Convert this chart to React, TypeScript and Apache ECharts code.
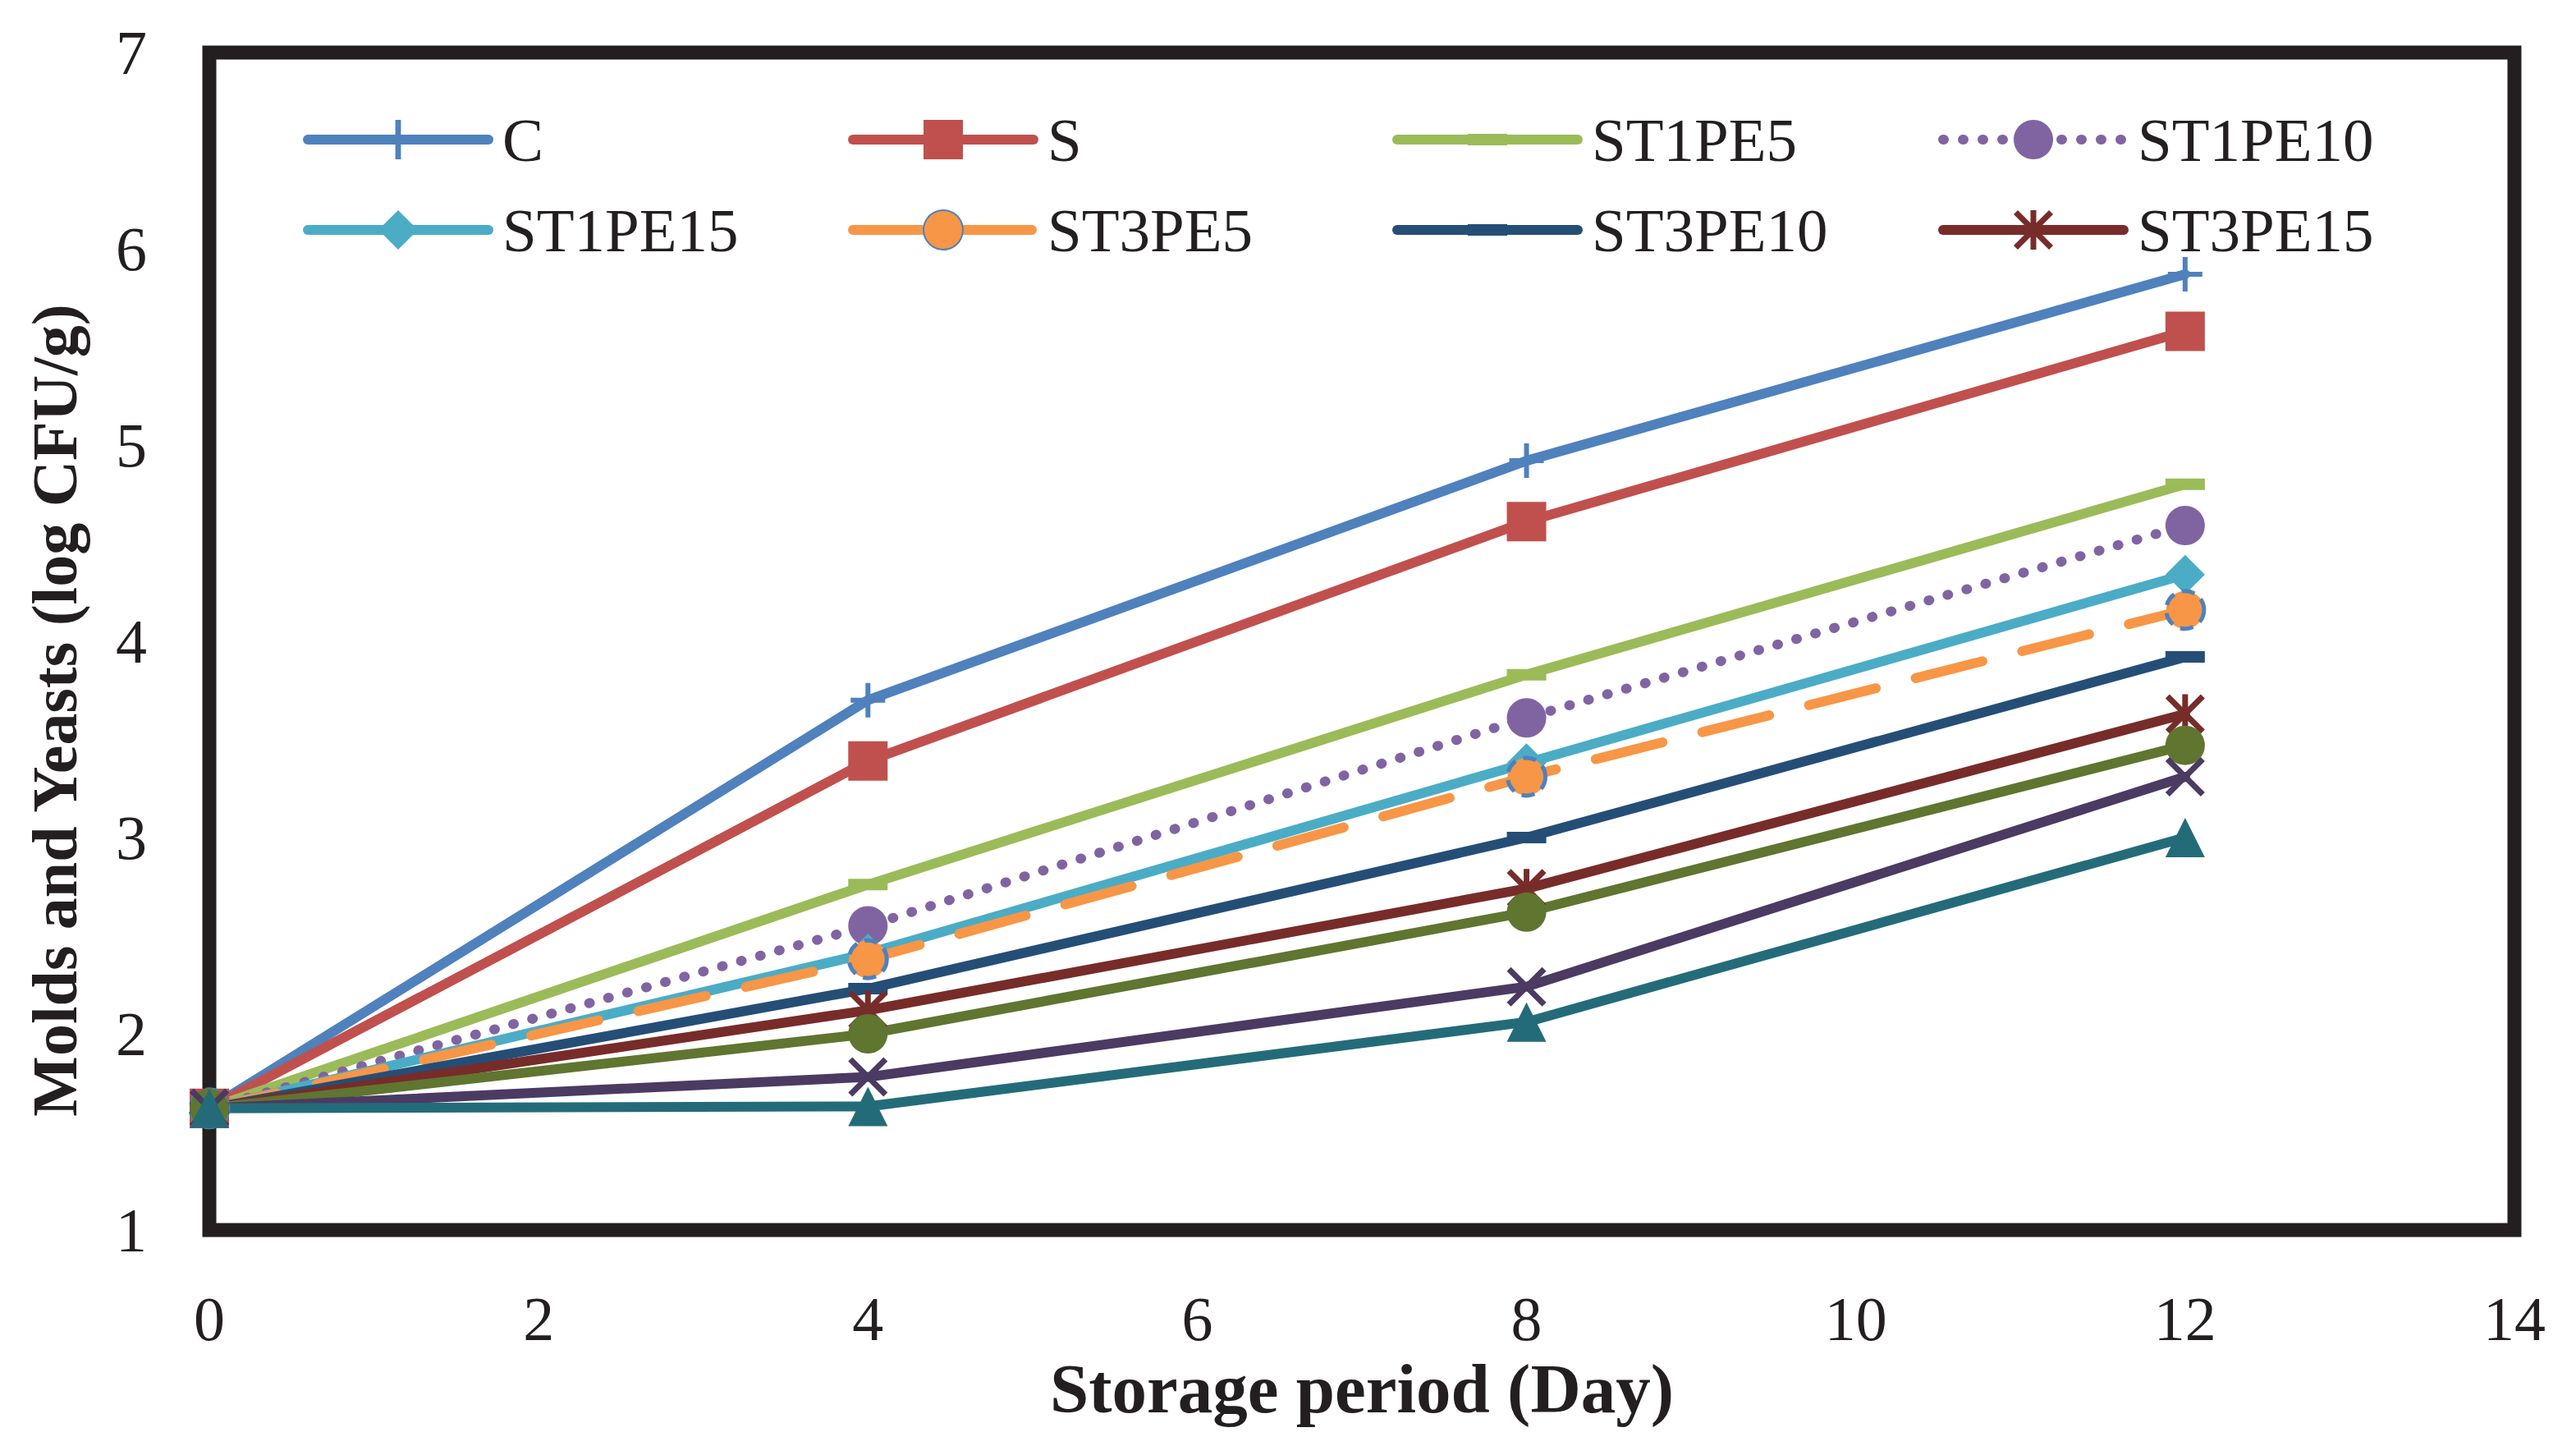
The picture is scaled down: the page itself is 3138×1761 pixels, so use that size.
import { useEffect, useRef } from "react"
import * as echarts from "echarts"

// storage days
const days = [0, 4, 8, 12]

// log CFU/g
const cValues = [1.62, 3.7, 4.92, 5.87]
const sValues = [1.62, 3.39, 4.61, 5.58]
const st1pe5Values = [1.62, 2.76, 3.83, 4.8]
const st1pe10Values = [1.62, 2.55, 3.61, 4.59]
const st1pe15Values = [1.62, 2.41, 3.38, 4.34]
const st3pe5Values = [1.62, 2.38, 3.31, 4.16]
const st3pe10Values = [1.62, 2.23, 3.0, 3.92]
const st3pe15Values = [1.62, 2.12, 2.74, 3.63]
// three more series are drawn but not listed in the legend
const hidden1Values = [1.62, 2.0, 2.62, 3.47]
const hidden2Values = [1.62, 1.78, 2.24, 3.31]
const hidden3Values = [1.62, 1.63, 2.06, 3.0]

const xTicks = { min: 0, max: 14, step: 2 }
const yTicks = { min: 1, max: 7, step: 1 }

const legendColumns = [
  ["C", "ST1PE15"],
  ["S", "ST3PE5"],
  ["ST1PE5", "ST3PE10"],
  ["ST1PE10", "ST3PE15"],
]

const FONT = "'Liberation Serif', 'Times New Roman', serif"
const INK = "#231f20"

const plusPath = "path://M18 0H24V18H42V24H24V42H18V24H0V18H18Z"
const dashPath = "path://M0 0M48 48M0 17H48V31H0Z"
const crossPath = "path://M0 5L5 0L48 43L43 48Z M43 0L48 5L5 48L0 43Z"
const starPath = "path://M0 5L5 0L48 43L43 48Z M43 0L48 5L5 48L0 43Z M20.5 0H27.5V48H20.5Z"

type LineDef = {
  name: string
  values: number[]
  color: string
  symbol: string
  size: number
  dash?: number[]
  border?: { color: string; width: number; type: number[] }
}

const lines: LineDef[] = [
  { name: "C", values: cValues, color: "#4f81bd", symbol: plusPath, size: 42 },
  { name: "S", values: sValues, color: "#c0504d", symbol: "rect", size: 48 },
  { name: "ST1PE5", values: st1pe5Values, color: "#9bbb59", symbol: dashPath, size: 48 },
  { name: "ST1PE10", values: st1pe10Values, color: "#8064a2", symbol: "circle", size: 48, dash: [1, 23] },
  { name: "ST1PE15", values: st1pe15Values, color: "#4bacc6", symbol: "diamond", size: 48 },
  {
    name: "ST3PE5",
    values: st3pe5Values,
    color: "#f79646",
    symbol: "circle",
    size: 46,
    dash: [84, 50],
    border: { color: "#4f81bd", width: 5, type: [16, 10] },
  },
  { name: "ST3PE10", values: st3pe10Values, color: "#254e77", symbol: dashPath, size: 48 },
  { name: "ST3PE15", values: st3pe15Values, color: "#772c2a", symbol: starPath, size: 48 },
  { name: "Series 9", values: hidden1Values, color: "#5f7530", symbol: "circle", size: 48 },
  { name: "Series 10", values: hidden2Values, color: "#4b3a62", symbol: crossPath, size: 48 },
  { name: "Series 11", values: hidden3Values, color: "#246b7a", symbol: "triangle", size: 48 },
]

export default function App() {
  const chartRef = useRef<HTMLDivElement>(null)

  useEffect(() => {
    if (!chartRef.current) return
    document.body.style.margin = "0"
    document.body.style.overflow = "hidden"

    const chart = echarts.init(chartRef.current, undefined, { renderer: "svg" })

    const legendLefts = [369, 1033, 1696, 2361]

    const option: any = {
      animation: false,
      backgroundColor: "#ffffff",
      grid: {
        left: 255,
        right: 75,
        top: 64,
        bottom: 263,
        show: true,
        borderColor: INK,
        borderWidth: 17,
        backgroundColor: "transparent",
        outerBoundsMode: "none",
      },
      legend: legendColumns.map((names, i) => ({
        data: names,
        orient: "vertical",
        left: legendLefts[i],
        top: 130,
        padding: 0,
        itemGap: 30,
        itemWidth: 220,
        itemHeight: 60,
        selectedMode: false,
        lineStyle: { width: 12, cap: "round", join: "round" },
        textStyle: {
          fontFamily: FONT,
          fontSize: 75,
          lineHeight: 80,
          color: INK,
          padding: [0, 0, 0, 12],
        },
      })),
      xAxis: {
        type: "value",
        min: xTicks.min,
        max: xTicks.max,
        interval: xTicks.step,
        axisLine: { show: false },
        axisTick: { show: false },
        splitLine: { show: false },
        axisLabel: { margin: 70, fontSize: 76, fontFamily: FONT, color: INK },
        name: "Storage period (Day)",
        nameLocation: "middle",
        nameGap: 138,
        nameTextStyle: { fontSize: 85, fontWeight: "bold", fontFamily: FONT, color: INK },
      },
      yAxis: {
        type: "value",
        min: yTicks.min,
        max: yTicks.max,
        interval: yTicks.step,
        axisLine: { show: false },
        axisTick: { show: false },
        splitLine: { show: false },
        axisLabel: { margin: 76, fontSize: 76, fontFamily: FONT, color: INK },
        name: "Molds and Yeasts (log CFU/g)",
        nameLocation: "middle",
        nameGap: 150,
        nameTextStyle: {
          fontSize: 78,
          fontWeight: "bold",
          fontFamily: FONT,
          color: INK,
          padding: [0, 168, 0, 0],
        },
      },
      series: lines.map((l) => ({
        name: l.name,
        type: "line",
        data: days.map((d, i) => [d, l.values[i]]),
        clip: false,
        symbol: l.symbol,
        symbolSize: l.size,
        showAllSymbol: true,
        lineStyle: {
          color: l.color,
          width: 12,
          type: l.dash ?? "solid",
          cap: "round",
          join: "round",
        },
        itemStyle: {
          color: l.color,
          borderColor: l.border ? l.border.color : l.color,
          borderWidth: l.border ? l.border.width : 0,
          borderType: l.border ? l.border.type : "solid",
          opacity: 1,
        },
        emphasis: { disabled: true },
      })),
    }

    chart.setOption(option)

    const handleResize = () => chart.resize()
    window.addEventListener("resize", handleResize)

    return () => {
      window.removeEventListener("resize", handleResize)
      chart.dispose()
    }
  }, [])

  return <div ref={chartRef} style={{ width: 3138, height: 1761 }} />
}
